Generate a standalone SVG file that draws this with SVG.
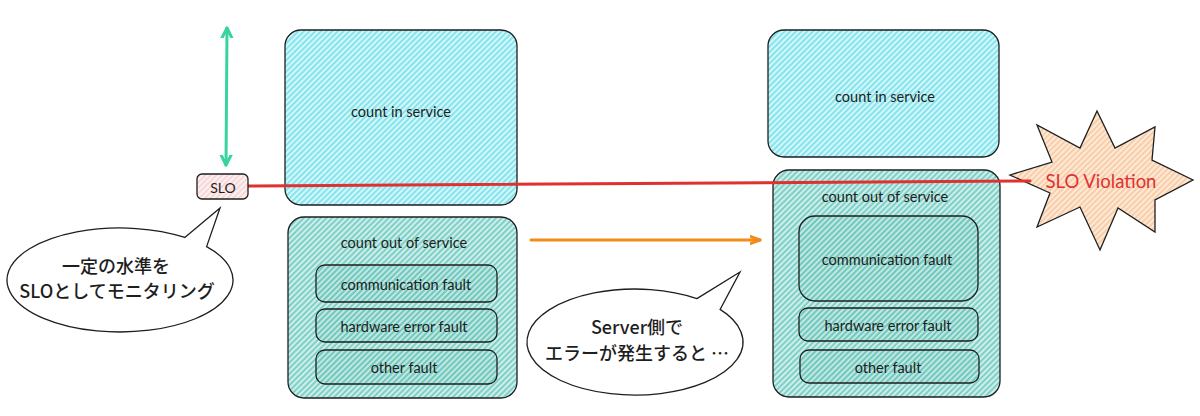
<svg xmlns="http://www.w3.org/2000/svg" width="1200" height="416" viewBox="0 0 1200 416">
<defs>
<pattern id="hCyan" width="4" height="4" patternUnits="userSpaceOnUse" patternTransform="rotate(45)">
<rect width="4" height="4" fill="#d2f7fa"/>
<line x1="1" y1="0" x2="1" y2="4" stroke="#74e0ea" stroke-width="1.6"/>
</pattern>
<pattern id="hTeal" width="4" height="4" patternUnits="userSpaceOnUse" patternTransform="rotate(45)">
<rect width="4" height="4" fill="#cdeeea"/>
<line x1="1" y1="0" x2="1" y2="4" stroke="#6cc9bf" stroke-width="1.6"/>
</pattern>
<pattern id="hTeal2" width="4" height="4" patternUnits="userSpaceOnUse" patternTransform="rotate(45)">
<rect width="4" height="4" fill="#bfe8e2"/>
<line x1="1" y1="0" x2="1" y2="4" stroke="#5fc0b5" stroke-width="1.6"/>
</pattern>
<pattern id="hPink" width="4" height="4" patternUnits="userSpaceOnUse" patternTransform="rotate(45)">
<rect width="4" height="4" fill="#fdf0f0"/>
<line x1="1" y1="0" x2="1" y2="4" stroke="#f3c9c9" stroke-width="1.2"/>
</pattern>
<pattern id="hOrange" width="4" height="4" patternUnits="userSpaceOnUse" patternTransform="rotate(45)">
<rect width="4" height="4" fill="#fde9d8"/>
<line x1="1" y1="0" x2="1" y2="4" stroke="#f8c79c" stroke-width="1.6"/>
</pattern>
<marker id="mGreen" viewBox="0 0 20 20" refX="10" refY="10" markerWidth="20" markerHeight="20" markerUnits="userSpaceOnUse" orient="auto-start-reverse">
<path d="M-4 3 L10 10 L-4 17" fill="none" stroke="#38d39f" stroke-width="3" stroke-linecap="round" stroke-linejoin="round"/>
</marker>
<marker id="mOrange" viewBox="0 0 20 20" refX="10" refY="10" markerWidth="20" markerHeight="20" markerUnits="userSpaceOnUse" orient="auto">
<path d="M-6 4 L10 10 L-6 16" fill="none" stroke="#f08c1a" stroke-width="3" stroke-linecap="round" stroke-linejoin="round"/>
</marker>
</defs>
<style>
.box{stroke:#1e1e1e;stroke-width:1.3}
.lbl{font-family:"Lato","Liberation Sans",sans-serif;font-size:14.5px;fill:#1e1e1e;text-anchor:middle;dominant-baseline:central}
.jp{font-family:"Noto Sans CJK JP","Noto Sans",sans-serif;font-size:18px;font-weight:500;fill:#1e1e1e;text-anchor:middle}
.bub{fill:#ffffff;stroke:#1e1e1e;stroke-width:1.3}
</style>
<rect width="1200" height="416" fill="#ffffff"/>

<g id="connectors">
<line x1="227" y1="28" x2="226" y2="165" stroke="#38d39f" stroke-width="3" stroke-linecap="round" marker-start="url(#mGreen)" marker-end="url(#mGreen)"/>
<line x1="531" y1="240" x2="760" y2="240" stroke="#f08c1a" stroke-width="3" stroke-linecap="round" marker-end="url(#mOrange)"/>
</g>

<g id="left-in-service">
<rect class="box" x="285" y="30" width="232" height="175" rx="16" fill="url(#hCyan)"/>
<text class="lbl" x="401" y="111">count in service</text>
</g>

<g id="left-out-of-service">
<rect class="box" x="288" y="217" width="229" height="181" rx="16" fill="url(#hTeal)"/>
<text class="lbl" x="404" y="242">count out of service</text>
<rect class="box" x="316" y="265" width="181" height="37" rx="9" fill="url(#hTeal2)"/>
<text class="lbl" x="406" y="284">communication fault</text>
<rect class="box" x="316" y="309" width="181" height="33" rx="9" fill="url(#hTeal2)"/>
<text class="lbl" x="404" y="326">hardware error fault</text>
<rect class="box" x="316" y="350" width="181" height="34" rx="9" fill="url(#hTeal2)"/>
<text class="lbl" x="404" y="367">other fault</text>
</g>

<g id="right-in-service">
<rect class="box" x="768" y="30" width="231" height="127" rx="16" fill="url(#hCyan)"/>
<text class="lbl" x="885" y="96">count in service</text>
</g>

<g id="right-out-of-service">
<rect class="box" x="773" y="170" width="227" height="227" rx="16" fill="url(#hTeal)"/>
<text class="lbl" x="885" y="196">count out of service</text>
<rect class="box" x="799" y="216" width="179" height="85" rx="16" fill="url(#hTeal2)"/>
<text class="lbl" x="887" y="259">communication fault</text>
<rect class="box" x="799" y="308" width="179" height="33" rx="9" fill="url(#hTeal2)"/>
<text class="lbl" x="888" y="325">hardware error fault</text>
<rect class="box" x="800" y="350" width="179" height="33" rx="9" fill="url(#hTeal2)"/>
<text class="lbl" x="888" y="367">other fault</text>
</g>

<g id="slo-violation">
<polygon class="box" fill="url(#hOrange)" points="1097,111 1115,148 1155,127 1152,160 1193,180 1155,200 1155,232 1118,208 1100,250 1080,207 1037,227 1050,193 1010,175 1052,162 1037,125 1080,148"/>
</g>

<g id="slo-line">
<line x1="246" y1="186" x2="1030" y2="181" stroke="#e03131" stroke-width="3" stroke-linecap="round"/>
</g>
<text x="1101" y="181" style="font-family:'Lato','Liberation Sans',sans-serif;font-size:18.5px;fill:#e03131;text-anchor:middle;dominant-baseline:central">SLO Violation</text>

<g id="slo">
<rect class="box" x="197" y="174" width="51" height="25" rx="5" fill="url(#hPink)"/>
<text class="lbl" x="223" y="187" style="font-size:14px">SLO</text>
</g>

<g id="bubble-left">
<path class="bub" d="M184.8 237.4 L220 208 L206.6 246.6 A113 52 0 1 1 184.8 237.4 Z"/>
<text class="jp" x="116" y="273">一定の水準を</text>
<text class="jp" x="117" y="298">SLOとしてモニタリング</text>
</g>

<g id="bubble-right">
<path class="bub" d="M696.9 298.6 L740 272 L720.1 309.4 A108 53 0 1 1 696.9 298.6 Z"/>
<text class="jp" x="637" y="334">Server側で</text>
<text class="jp" x="637" y="360">エラーが発生すると …</text>
</g>
</svg>
